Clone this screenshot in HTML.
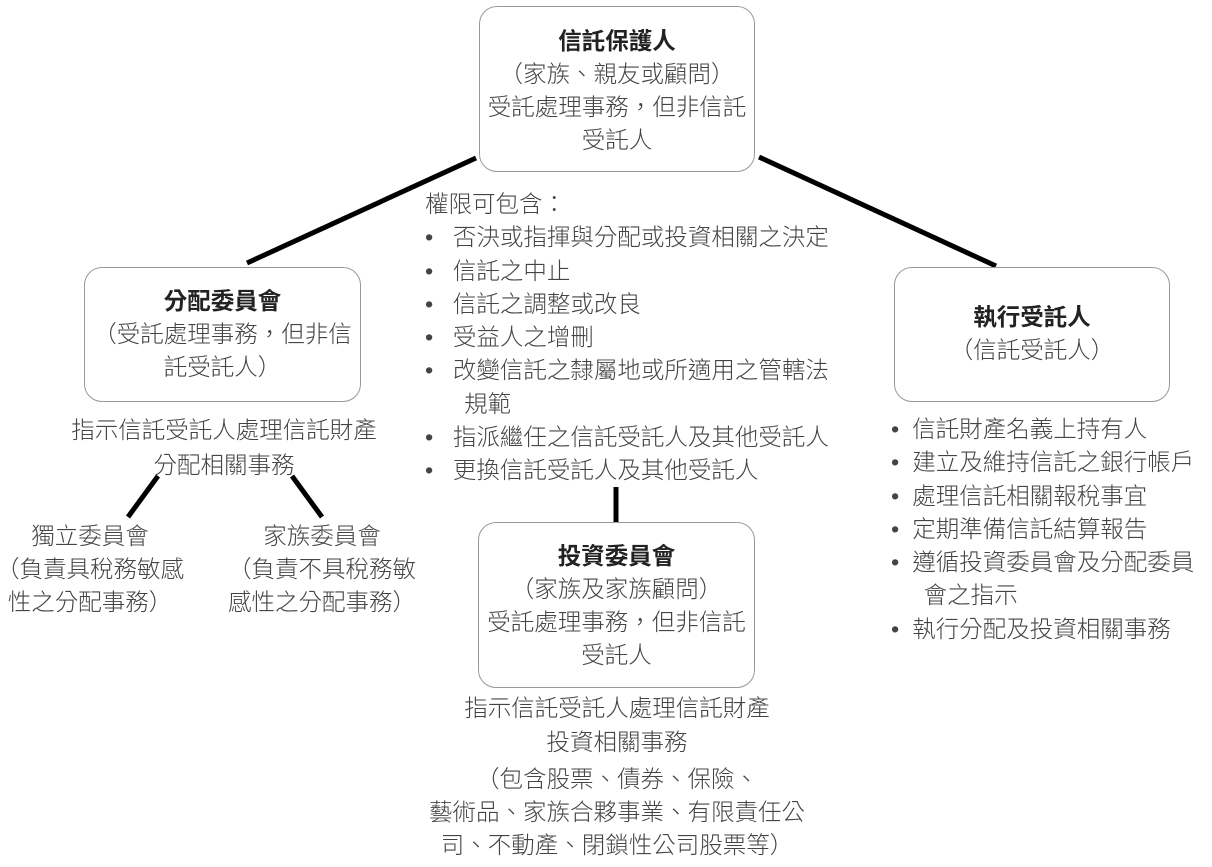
<!DOCTYPE html>
<html><head><meta charset="utf-8"><style>
body{margin:0;width:1212px;height:867px;background:#fff;position:relative;overflow:hidden;font-family:"Liberation Sans","Noto Sans CJK TC",sans-serif;color:#444;font-size:23.5px;font-weight:300}
.box{position:absolute;border:1.5px solid #999;border-radius:18px;box-sizing:border-box}
.t{position:absolute;white-space:nowrap;line-height:33px}
.c{text-align:center}
b{font-weight:bold;color:#222}
</style></head><body>
<svg width="1212" height="867" style="position:absolute;left:0;top:0">
<g stroke="#000" stroke-width="5" stroke-linecap="butt">
<line x1="476" y1="158" x2="247" y2="263"/>
<line x1="759" y1="157" x2="996" y2="266"/>
<line x1="158" y1="476" x2="128" y2="517"/>
<line x1="292" y1="476" x2="322" y2="517"/>
<line x1="616" y1="487" x2="616" y2="522"/>
</g></svg>
<div class="box" style="left:479px;top:6px;width:276px;height:166px"></div>
<div class="t c" style="left:459px;width:316px;top:25px"><b>信託保護人</b><br>（家族、親友或顧問）<br>受託處理事務，但非信託<br>受託人</div>

<div class="box" style="left:84px;top:267px;width:277px;height:135px"></div>
<div class="t c" style="left:64px;width:317px;top:285px"><b>分配委員會</b><br>（受託處理事務，但非信<br>託受託人）</div>
<div class="t c" style="left:24px;width:400px;top:413px;line-height:35px">指示信託受託人處理信託財產<br>分配相關事務</div>
<div class="t c" style="left:-10px;width:200px;top:520px">獨立委員會<br>（負責具稅務敏感<br>性之分配事務）</div>
<div class="t c" style="left:217px;width:210px;top:520px">家族委員會<br>（負責不具稅務敏<br>感性之分配事務）</div>

<div class="t" style="left:425px;top:188px;line-height:33.3px">權限可包含：<br>
•&nbsp;&nbsp; 否決或指揮與分配或投資相關之決定<br>
•&nbsp;&nbsp; 信託之中止<br>
•&nbsp;&nbsp; 信託之調整或改良<br>
•&nbsp;&nbsp; 受益人之增刪<br>
•&nbsp;&nbsp; 改變信託之隸屬地或所適用之管轄法<br>
&nbsp;&nbsp;&nbsp;&nbsp;&nbsp;&nbsp;規範<br>
•&nbsp;&nbsp; 指派繼任之信託受託人及其他受託人<br>
•&nbsp;&nbsp; 更換信託受託人及其他受託人</div>

<div class="box" style="left:478px;top:522px;width:277px;height:166px"></div>
<div class="t c" style="left:458px;width:317px;top:540px"><b>投資委員會</b><br>（家族及家族顧問）<br>受託處理事務，但非信託<br>受託人</div>
<div class="t c" style="left:417px;width:400px;top:691px;line-height:34px">指示信託受託人處理信託財產<br>投資相關事務</div>
<div class="t c" style="left:417px;width:400px;top:763px">（包含股票、債券、保險、<br>藝術品、家族合夥事業、有限責任公<br>司、不動產、閉鎖性公司股票等）</div>

<div class="box" style="left:894px;top:267px;width:276px;height:135px"></div>
<div class="t c" style="left:874px;width:316px;top:301px"><b>執行受託人</b><br>（信託受託人）</div>
<div class="t" style="left:891px;top:413px;line-height:33.3px">
•&nbsp; 信託財產名義上持有人<br>
•&nbsp; 建立及維持信託之銀行帳戶<br>
•&nbsp; 處理信託相關報稅事宜<br>
•&nbsp; 定期準備信託結算報告<br>
•&nbsp; 遵循投資委員會及分配委員<br>
&nbsp;&nbsp;&nbsp;&nbsp;&nbsp;會之指示<br>
•&nbsp; 執行分配及投資相關事務</div>
</body></html>
